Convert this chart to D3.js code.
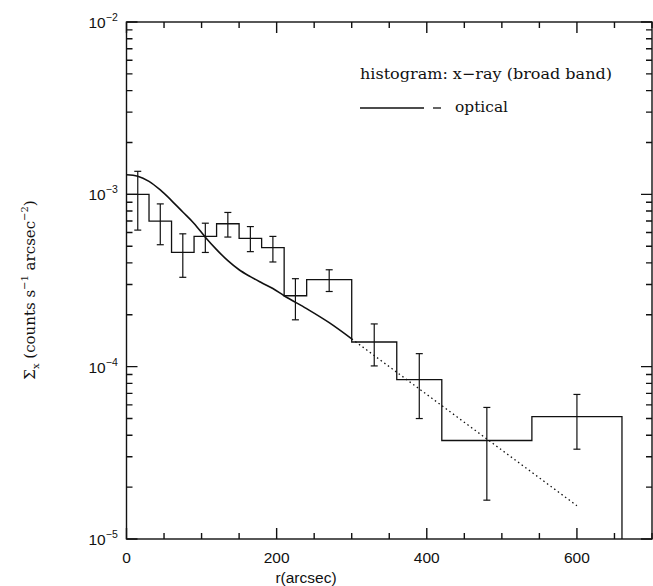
<!DOCTYPE html>
<html>
<head>
<meta charset="utf-8">
<script src="https://cdn.jsdelivr.net/npm/d3@7"></script>
<style>
  body { margin: 0; background: #fff; }
  svg text { fill: #111; }
</style>
</head>
<body>
<div id="chart"></div>
<script>
// histogram bins (arcsec) and x-ray surface brightness
const binEdges = [0, 30, 60, 90, 120, 150, 180, 210, 240, 300, 360, 420, 540, 660]
const binValues = [1.0e-3, 7.0e-4, 4.6e-4, 5.7e-4, 6.75e-4, 5.55e-4, 4.9e-4, 2.58e-4, 3.2e-4, 1.39e-4, 8.4e-5, 3.73e-5, 5.13e-5]
const errCenters = [15, 45, 75, 105, 135, 165, 195, 225, 270, 330, 390, 480, 600]
const errLow = [6.2e-4, 5.1e-4, 3.3e-4, 4.6e-4, 5.65e-4, 4.65e-4, 4.05e-4, 1.87e-4, 2.73e-4, 1.01e-4, 5.0e-5, 1.68e-5, 3.32e-5]
const errHigh = [1.36e-3, 8.8e-4, 5.9e-4, 6.8e-4, 7.85e-4, 6.5e-4, 5.7e-4, 3.24e-4, 3.65e-4, 1.77e-4, 1.19e-4, 5.8e-5, 6.9e-5]

// optical profile, solid part and dotted extrapolation
const opticalR = [0, 15, 30, 45, 60, 75, 90, 105, 120, 135, 150, 165, 180, 195, 210, 240, 270, 300]
const opticalV = [1.30e-3, 1.275e-3, 1.19e-3, 1.06e-3, 9.2e-4, 7.9e-4, 6.78e-4, 5.64e-4, 4.78e-4, 4.12e-4, 3.65e-4, 3.33e-4, 3.07e-4, 2.84e-4, 2.58e-4, 2.17e-4, 1.80e-4, 1.45e-4]
const extrapR = [300, 600]
const extrapV = [1.45e-4, 1.56e-5]

const xMajor = [0, 200, 400, 600]
const yDecades = [-5, -4, -3, -2]

const W = 653, H = 586
const margin = { top: 22, right: 1, bottom: 47, left: 126.5 }

const svg = d3.select('#chart').append('svg')
  .attr('width', W)
  .attr('height', H)

const x = d3.scaleLinear().domain([0, 700]).range([margin.left, W - margin.right])
const y = d3.scaleLog().domain([1e-5, 1e-2]).range([H - margin.bottom, margin.top])

const ink = '#111'
const g = svg.append('g')

const x0 = x(0), x1 = x(700), y0 = y(1e-5), y1 = y(1e-2)

// frame
g.append('rect')
  .attr('x', x0).attr('y', y1)
  .attr('width', x1 - x0).attr('height', y0 - y1)
  .attr('fill', 'none').attr('stroke', ink).attr('stroke-width', 1.4)

// ticks, all pointing inward, on four sides
const xMinor = d3.range(0, 701, 50).filter((d) => d % 200 !== 0)
const yMinor = []
yDecades.slice(0, -1).forEach((e) => {
  for (let k = 2; k <= 9; k++) yMinor.push(k * Math.pow(10, e))
})
const yMaj = yDecades.map((e) => Math.pow(10, e))

const xTicks = xMajor.map((v) => ({ v, len: 11 })).concat(xMinor.map((v) => ({ v, len: 6 })))
const yTicks = yMaj.map((v) => ({ v, len: 11 })).concat(yMinor.map((v) => ({ v, len: 6 })))

let tickPath = ''
xTicks.forEach((d) => {
  const px = x(d.v)
  tickPath += `M${px},${y0}V${y0 - d.len}M${px},${y1}V${y1 + d.len}`
})
yTicks.forEach((d) => {
  const py = y(d.v)
  tickPath += `M${x0},${py}H${x0 + d.len}M${x1},${py}H${x1 - d.len}`
})
g.append('path')
  .attr('d', tickPath)
  .attr('fill', 'none')
  .attr('stroke', ink)
  .attr('stroke-width', 1.4)

// tick labels
const sans = "'Liberation Sans', Arial, sans-serif"
g.selectAll('.xlab').data(xMajor).enter().append('text')
  .attr('x', (d) => x(d)).attr('y', y0 + 24)
  .attr('text-anchor', 'middle')
  .style('font-family', sans).style('font-size', '15.5px')
  .text((d) => d)

const yl = g.selectAll('.ylab').data(yDecades).enter().append('text')
  .attr('x', x0 - 38).attr('y', (d) => y(Math.pow(10, d)) + 6)
  .style('font-family', sans).style('font-size', '15.5px')
yl.append('tspan').text('10')
yl.append('tspan').attr('dy', -7).style('font-size', '10.5px').text((d) => '−' + Math.abs(d))

// histogram
const stepPts = []
binValues.forEach((v, i) => {
  stepPts.push([binEdges[i], v])
  stepPts.push([binEdges[i + 1], v])
})
const histLine = d3.line()
  .x((d) => x(d[0]))
  .y((d) => y(Math.max(d[1], 1e-5)))
g.append('path')
  .datum([...stepPts, [660, 1e-5]])
  .attr('d', histLine)
  .attr('fill', 'none').attr('stroke', ink).attr('stroke-width', 1.3)

// error bars
const capW = 3.5
const eb = g.selectAll('.err').data(errCenters).enter().append('g')
eb.append('line')
  .attr('x1', (d) => x(d)).attr('x2', (d) => x(d))
  .attr('y1', (d, i) => y(errLow[i])).attr('y2', (d, i) => y(errHigh[i]))
eb.append('line')
  .attr('x1', (d) => x(d) - capW).attr('x2', (d) => x(d) + capW)
  .attr('y1', (d, i) => y(errLow[i])).attr('y2', (d, i) => y(errLow[i]))
eb.append('line')
  .attr('x1', (d) => x(d) - capW).attr('x2', (d) => x(d) + capW)
  .attr('y1', (d, i) => y(errHigh[i])).attr('y2', (d, i) => y(errHigh[i]))
eb.selectAll('line').attr('stroke', ink).attr('stroke-width', 1.2)

// optical profile
const optLine = d3.line()
  .x((d) => x(d[0]))
  .y((d) => y(d[1]))
  .curve(d3.curveMonotoneX)
g.append('path')
  .datum(opticalR.map((r, i) => [r, opticalV[i]]))
  .attr('d', optLine)
  .attr('fill', 'none').attr('stroke', ink).attr('stroke-width', 1.6)
g.append('path')
  .datum(extrapR.map((r, i) => [r, extrapV[i]]))
  .attr('d', d3.line().x((d) => x(d[0])).y((d) => y(d[1])))
  .attr('fill', 'none').attr('stroke', ink).attr('stroke-width', 1.3)
  .attr('stroke-dasharray', '1.5,3')

// legend
const serif = "'DejaVu Serif', 'Liberation Serif', serif"
g.append('text')
  .attr('x', 360).attr('y', 79)
  .attr('textLength', 252).attr('lengthAdjust', 'spacingAndGlyphs')
  .style('font-family', serif).style('font-size', '15px')
  .text('histogram: x−ray (broad band)')
g.append('line')
  .attr('x1', 360).attr('x2', 424).attr('y1', 108).attr('y2', 108)
  .attr('stroke', ink).attr('stroke-width', 1.3)
g.append('line')
  .attr('x1', 433).attr('x2', 441).attr('y1', 108).attr('y2', 108)
  .attr('stroke', ink).attr('stroke-width', 1.3)
g.append('text')
  .attr('x', 455).attr('y', 112)
  .attr('textLength', 53).attr('lengthAdjust', 'spacingAndGlyphs')
  .style('font-family', serif).style('font-size', '15px')
  .text('optical')

// axis titles
g.append('text')
  .attr('x', 306).attr('y', 583)
  .attr('text-anchor', 'middle')
  .style('font-family', sans).style('font-size', '15.5px')
  .text('r(arcsec)')

const yt = g.append('text')
  .attr('transform', 'translate(35,290) rotate(-90)')
  .attr('text-anchor', 'middle')
  .style('font-family', serif).style('font-size', '15px')
yt.append('tspan').text('Σ')
yt.append('tspan').attr('dy', 4).style('font-size', '10px').text('x')
yt.append('tspan').attr('dy', -4).text(' (counts s')
yt.append('tspan').attr('dy', -7).style('font-size', '10px').text('−1')
yt.append('tspan').attr('dy', 7).text('  arcsec')
yt.append('tspan').attr('dy', -7).style('font-size', '10px').text('−2')
yt.append('tspan').attr('dy', 7).text(')')
</script>
</body>
</html>
